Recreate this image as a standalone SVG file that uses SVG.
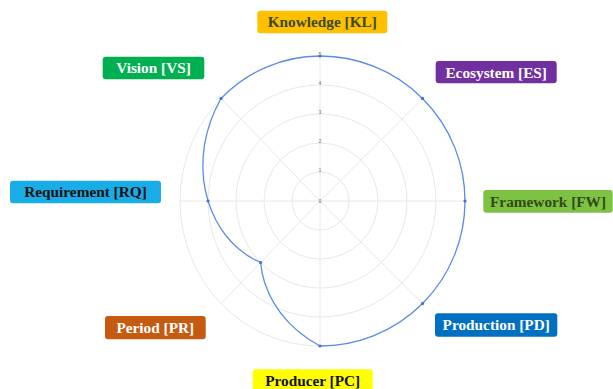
<svg xmlns="http://www.w3.org/2000/svg" width="613" height="389" viewBox="0 0 613 389">
<style>
.ring{fill:none;stroke:#e8e8e8;stroke-width:1}
.axis{stroke:#e8e8e8;stroke-width:1}
.tick{font-family:"Liberation Sans",Arial,sans-serif;font-size:4.5px;fill:#666;text-anchor:middle}
.data{fill:none;stroke:#5b8ce8;stroke-width:1.3;stroke-linejoin:round}
.dot{fill:#3f72d9}
.lbl{font-family:"Liberation Serif","Times New Roman",serif;font-weight:bold;font-size:15.3px;text-anchor:middle}
</style>
<rect width="613" height="389" fill="#ffffff"/>
<g id="grid">
<path class="ring" d="M320,172 A29,29 0 0 1 320,230 A27.99,29 0 0 1 320,172 Z"/>
<path class="ring" d="M320,143 A58,58 0 0 1 320,259 A55.97,58 0 0 1 320,143 Z"/>
<path class="ring" d="M320,114 A87,87 0 0 1 320,288 A83.96,87 0 0 1 320,114 Z"/>
<path class="ring" d="M320,85 A116,116 0 0 1 320,317 A111.94,116 0 0 1 320,85 Z"/>
<path class="ring" d="M320,56 A145,145 0 0 1 320,346 A139.93,145 0 0 1 320,56 Z"/>
<line class="axis" x1="320" y1="201" x2="320" y2="56"/>
<line class="axis" x1="320" y1="201" x2="422.5" y2="98.5"/>
<line class="axis" x1="320" y1="201" x2="465" y2="201"/>
<line class="axis" x1="320" y1="201" x2="422.5" y2="303.5"/>
<line class="axis" x1="320" y1="201" x2="320" y2="346"/>
<line class="axis" x1="320" y1="201" x2="221.06" y2="303.53"/>
<line class="axis" x1="320" y1="201" x2="180.07" y2="201"/>
<line class="axis" x1="320" y1="201" x2="221.06" y2="98.47"/>
<text class="tick" x="320" y="202.5">0</text>
<text class="tick" x="320" y="171.5">1</text>
<text class="tick" x="320" y="142.5">2</text>
<text class="tick" x="320" y="113.5">3</text>
<text class="tick" x="320" y="84.5">4</text>
<text class="tick" x="320" y="55.5">5</text>
</g>
<g id="connectors">
<path class="data" d="M320,56 A145,145 0 0 1 320,346 L308.34,339.03 L297.86,331.10 L288.61,322.39 L280.65,313.03 L274.01,303.21 L268.69,293.09 L264.71,282.82 L262.04,272.58 L260.63,262.52 L253.31,258.99 L246.14,254.60 L239.21,249.33 L232.64,243.22 L226.50,236.27 L220.89,228.52 L215.88,220.02 L211.58,210.83 L208.06,201 L205.39,190.61 L203.64,179.74 L202.86,168.47 L203.12,156.92 L204.46,145.17 L206.90,133.33 L210.47,121.53 L215.19,109.87 L221.06,98.47 A139.93,145 0 0 1 320,56 Z"/>
<circle class="dot" cx="320" cy="56" r="1.6"/>
<circle class="dot" cx="422.53" cy="98.47" r="1.6"/>
<circle class="dot" cx="465" cy="201" r="1.6"/>
<circle class="dot" cx="422.53" cy="303.53" r="1.6"/>
<circle class="dot" cx="320" cy="346" r="1.6"/>
<circle class="dot" cx="260.63" cy="262.52" r="1.6"/>
<circle class="dot" cx="208.06" cy="201" r="1.6"/>
<circle class="dot" cx="221.06" cy="98.47" r="1.6"/>
</g>
<g id="KL">
<rect x="257.3" y="10.7" width="130" height="22.6" rx="3" fill="#ffc000"/>
<text class="lbl" x="322.3" y="27.4" fill="#3b4a16">Knowledge [KL]</text>
</g>
<g id="ES">
<rect x="435.7" y="61" width="121" height="22.3" rx="3" fill="#7030a0"/>
<text class="lbl" x="496.2" y="77.5" fill="#ffffff">Ecosystem [ES]</text>
</g>
<g id="FW">
<rect x="483.3" y="190" width="129.4" height="22.7" rx="3" fill="#7dc242"/>
<text class="lbl" x="548" y="206.7" fill="#33491a">Framework [FW]</text>
</g>
<g id="PD">
<rect x="435" y="313.3" width="122.3" height="23.4" rx="3" fill="#0070c0"/>
<text class="lbl" x="496.2" y="330.3" fill="#ffffff">Production [PD]</text>
</g>
<g id="PC">
<rect x="252.7" y="369.3" width="120" height="25" rx="3" fill="#ffff00"/>
<text class="lbl" x="312.7" y="386.3" fill="#111111">Producer [PC]</text>
</g>
<g id="PR">
<rect x="105" y="316" width="100.7" height="23.3" rx="3" fill="#c55a11"/>
<text class="lbl" x="155.3" y="332.9" fill="#ffffff">Period [PR]</text>
</g>
<g id="RQ">
<rect x="10" y="180.7" width="151" height="22.6" rx="3" fill="#18ade6"/>
<text class="lbl" x="85.5" y="197.4" fill="#111111">Requirement [RQ]</text>
</g>
<g id="VS">
<rect x="102.7" y="56.7" width="101.6" height="22.6" rx="3" fill="#00b050"/>
<text class="lbl" x="153.5" y="73.4" fill="#ffffff">Vision [VS]</text>
</g>
</svg>
